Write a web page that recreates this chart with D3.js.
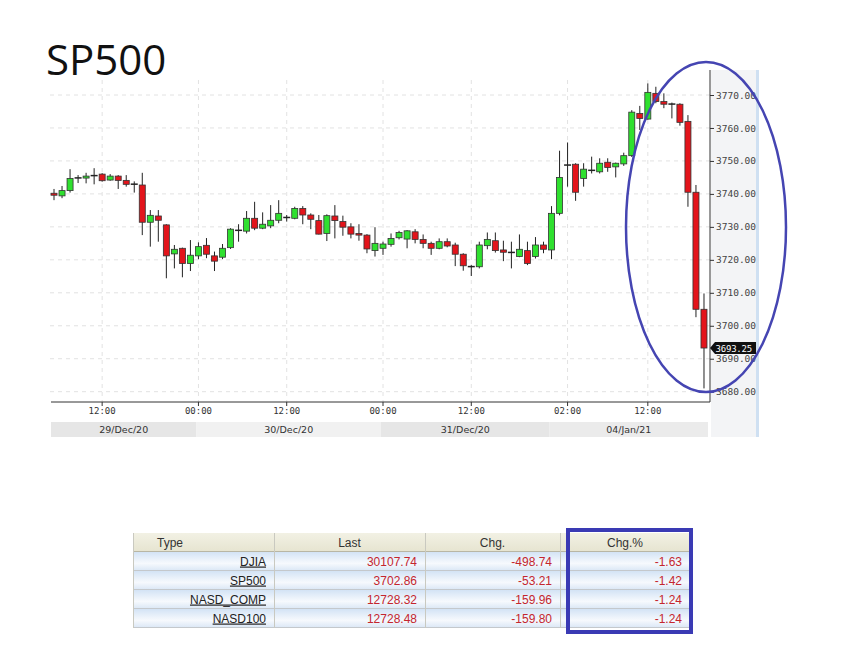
<!DOCTYPE html>
<html><head><meta charset="utf-8">
<script src="https://cdn.jsdelivr.net/npm/d3@7"></script>
<style>
html,body{margin:0;padding:0;background:#fff;}
svg{display:block;}
</style></head>
<body>
<svg id="chart" width="854" height="665"></svg>
<script>
// ---------- DATA ----------
const title = "SP500";
const opens  = [3740.2,3739.4,3741.0,3744.8,3744.8,3745.5,3746.0,3744.2,3745.4,3744.1,3743.0,3742.7,3731.4,3733.3,3730.6,3721.8,3723.5,3718.9,3721.2,3724.4,3721.2,3720.8,3723.7,3728.9,3728.7,3732.6,3729.6,3730.3,3732.0,3732.9,3732.6,3735.6,3733.6,3731.9,3728.0,3733.3,3731.6,3730.0,3728.0,3727.5,3722.8,3723.5,3724.7,3726.7,3726.3,3728.5,3726.2,3725.0,3723.5,3725.5,3724.5,3721.7,3718.0,3717.9,3724.3,3725.8,3723.0,3722.2,3721.0,3722.8,3721.0,3724.5,3723.0,3734.1,3748.7,3749.0,3744.7,3747.1,3746.7,3749.6,3748.2,3749.1,3751.6,3764.4,3762.7,3770.5,3768.0,3767.3,3767.2,3762.0,3740.5,3705.0];
const highs  = [3741.5,3742.4,3747.5,3745.7,3746.4,3747.8,3746.3,3746.0,3745.7,3745.7,3743.8,3746.4,3735.1,3735.1,3730.8,3724.5,3723.7,3726.0,3725.3,3726.6,3722.5,3724.8,3729.6,3730.8,3734.8,3737.6,3734.4,3736.6,3738.1,3733.6,3736.1,3736.3,3734.1,3733.6,3733.8,3736.6,3733.4,3731.1,3730.8,3727.8,3729.9,3725.5,3728.0,3728.8,3729.0,3729.3,3727.7,3725.5,3726.5,3726.5,3725.2,3722.0,3718.4,3725.5,3728.3,3728.3,3725.8,3725.5,3727.7,3725.5,3726.9,3725.5,3736.3,3753.1,3755.6,3749.3,3749.3,3751.3,3750.8,3750.8,3749.5,3752.5,3765.4,3766.7,3773.5,3772.5,3770.5,3767.7,3767.5,3763.9,3742.7,3709.8];
const lows   = [3738.1,3738.7,3740.4,3743.3,3743.2,3742.9,3743.7,3744.0,3741.5,3742.2,3740.4,3727.5,3724.0,3725.5,3714.4,3717.4,3714.7,3716.6,3720.2,3720.5,3716.6,3720.2,3723.3,3725.5,3728.0,3729.0,3729.3,3729.6,3731.1,3731.6,3732.3,3730.8,3729.3,3727.7,3725.7,3726.5,3727.3,3726.5,3725.8,3722.0,3721.0,3721.5,3724.0,3726.2,3723.5,3725.0,3723.5,3721.5,3723.2,3723.8,3718.1,3716.7,3715.1,3717.4,3723.2,3722.2,3719.6,3717.4,3720.8,3718.4,3720.4,3722.0,3720.2,3733.5,3742.2,3737.9,3742.2,3746.2,3746.2,3746.7,3745.0,3748.5,3751.2,3759.4,3762.5,3767.5,3766.0,3762.9,3760.7,3736.1,3702.6,3681.0];
const closes = [3739.6,3741.0,3744.7,3744.9,3745.4,3745.6,3744.0,3745.4,3744.1,3742.9,3742.9,3731.4,3733.5,3732.0,3721.2,3723.2,3718.9,3721.4,3724.0,3721.7,3719.6,3723.5,3729.3,3729.0,3732.6,3729.6,3730.8,3732.0,3734.1,3732.8,3735.6,3733.6,3732.3,3727.8,3733.4,3731.9,3729.9,3727.8,3727.5,3723.3,3725.0,3724.8,3726.5,3728.3,3728.8,3726.2,3725.0,3723.5,3725.5,3724.2,3721.7,3718.2,3717.9,3724.5,3726.2,3722.8,3722.3,3722.3,3723.2,3718.9,3724.5,3723.2,3734.1,3745.0,3748.8,3740.5,3747.5,3747.2,3749.3,3748.0,3749.3,3751.6,3764.8,3762.9,3770.8,3768.0,3767.2,3767.2,3761.7,3740.5,3705.0,3693.25];
const priceTicks = [3680,3690,3700,3710,3720,3730,3740,3750,3760,3770];
const timeTickIdx = [6,18,29,41,52,64,74];
const timeTickLabels = ["12:00","00:00","12:00","00:00","12:00","02:00","12:00"];
const dateStartIdx = [0,18,41,62];
const dateLabels = ["29/Dec/20","30/Dec/20","31/Dec/20","04/Jan/21"];
const lastPrice = 3693.25;

const tableHeaders = ["Type","Last","Chg.","Chg.%"];
const tableTypes = ["DJIA","SP500","NASD_COMP","NASD100"];
const tableLast = ["30107.74","3702.86","12728.32","12728.48"];
const tableChg = ["-498.74","-53.21","-159.96","-159.80"];
const tableChgPct = ["-1.63","-1.42","-1.24","-1.24"];

// ---------- LAYOUT ----------
const svg = d3.select("#chart");
const plotL = 50, plotR = 710, plotT = 70, plotB = 402;
const n = opens.length;
const x = d3.scaleBand().domain(d3.range(n)).range([51, 51 + 8*n]).paddingInner(0.25).paddingOuter(0);
const xc = i => x(i) + x.bandwidth()/2;
const y = d3.scaleLinear().domain([3680, 3770]).range([391.7, 95]);

const defs = svg.append("defs");
const rg = defs.append("linearGradient").attr("id","rowGrad").attr("x1",0).attr("y1",0).attr("x2",0).attr("y2",1);
rg.append("stop").attr("offset","0").attr("stop-color","#d3e3f5");
rg.append("stop").attr("offset","0.45").attr("stop-color","#eef4fb");
rg.append("stop").attr("offset","0.6").attr("stop-color","#f6f9fd");
rg.append("stop").attr("offset","1").attr("stop-color","#d9e6f5");
const hg = defs.append("linearGradient").attr("id","hdrGrad").attr("x1",0).attr("y1",0).attr("x2",0).attr("y2",1);
hg.append("stop").attr("offset","0").attr("stop-color","#f2f1e4");
hg.append("stop").attr("offset","1").attr("stop-color","#e6e4d0");

// Title
svg.append("text").attr("x",46).attr("y",75).text(title)
  .attr("font-family","'Open Sans', 'Noto Sans', sans-serif").attr("font-size",42).attr("fill","#111");

// Right axis panel background
svg.append("rect").attr("x",711).attr("y",plotT).attr("width",45).attr("height",437-plotT).attr("fill","#f3f4f6");
svg.append("rect").attr("x",756).attr("y",plotT).attr("width",3).attr("height",437-plotT).attr("fill","#cfe0f2");

// Grid
const gridG = svg.append("g");
gridG.selectAll("line.h").data(priceTicks).join("line")
  .attr("x1",plotL).attr("x2",plotR).attr("y1",d=>y(d)).attr("y2",d=>y(d))
  .attr("stroke","#e2e2e2").attr("stroke-dasharray","4,4");
gridG.selectAll("line.v").data(timeTickIdx).join("line")
  .attr("x1",d=>xc(d)).attr("x2",d=>xc(d)).attr("y1",80).attr("y2",plotB)
  .attr("stroke","#e2e2e2").attr("stroke-dasharray","4,4");

// Candles
const cg = svg.append("g");
const green = "#2fe02f", red = "#e3141b";
d3.range(n).forEach(i => {
  const o = opens[i], c = closes[i], h = highs[i], l = lows[i];
  cg.append("line").attr("x1",xc(i)).attr("x2",xc(i)).attr("y1",y(h)).attr("y2",y(l))
    .attr("stroke","#222").attr("stroke-width",1);
  const top = y(Math.max(o,c)), bot = y(Math.min(o,c));
  if (bot - top < 1.5) {
    cg.append("line").attr("x1",x(i)-0.5).attr("x2",x(i)+x.bandwidth()+0.5)
      .attr("y1",(top+bot)/2).attr("y2",(top+bot)/2).attr("stroke","#222").attr("stroke-width",1.5);
  } else {
    cg.append("rect").attr("x",x(i)).attr("y",top).attr("width",x.bandwidth()).attr("height",bot-top)
      .attr("fill", c >= o ? green : red).attr("stroke","#333").attr("stroke-width",0.8);
  }
});

// Y axis (right)
const yAxis = d3.axisRight(y).tickValues(priceTicks).tickFormat(d3.format(".2f")).tickSize(4).tickPadding(2);
const yg = svg.append("g").attr("transform",`translate(${plotR},0)`).call(yAxis);
yg.select(".domain").remove();
yg.append("line").attr("x1",0).attr("x2",0).attr("y1",plotT).attr("y2",plotB).attr("stroke","#333");
yg.selectAll(".tick line").attr("stroke","#333");
yg.selectAll(".tick text").attr("font-family","'DejaVu Sans Mono', monospace").attr("font-size",9.5).attr("fill","#444");

// Last price tag
const ly = y(lastPrice);
svg.append("path").attr("d",`M710,${ly} L715,${ly-6} L756,${ly-6} L756,${ly+6} L715,${ly+6} Z`).attr("fill","#111");
svg.append("text").attr("x",715.5).attr("y",ly+3.5).text(lastPrice.toFixed(2))
  .attr("font-family","'DejaVu Sans Mono', monospace").attr("font-size",9).attr("letter-spacing",-0.2).attr("fill","#fff");

// X axis
svg.append("line").attr("x1",51).attr("x2",plotR).attr("y1",plotB).attr("y2",plotB).attr("stroke","#333");
const xg = svg.append("g");
xg.selectAll("line").data(timeTickIdx).join("line")
  .attr("x1",d=>xc(d)).attr("x2",d=>xc(d)).attr("y1",plotB).attr("y2",plotB+4).attr("stroke","#333");
xg.selectAll("text").data(timeTickIdx).join("text")
  .attr("x",d=>xc(d)).attr("y",414).attr("text-anchor","middle")
  .text((d,i)=>timeTickLabels[i])
  .attr("font-family","'DejaVu Sans Mono', monospace").attr("font-size",9).attr("fill","#333");

// Date bar
const segX = dateStartIdx.map((d,i)=> i===0 ? 51 : xc(d)-2);
const segEnd = segX.slice(1).concat([708]);
const segFill = ["#e6e6e6","#f1f1f1","#e6e6e6","#ebebeb"];
const dg = svg.append("g");
dg.selectAll("rect").data(dateLabels).join("rect")
  .attr("x",(d,i)=>segX[i]).attr("y",422).attr("width",(d,i)=>segEnd[i]-segX[i]).attr("height",15)
  .attr("fill",(d,i)=>segFill[i]);
dg.selectAll("text").data(dateLabels).join("text")
  .attr("x",(d,i)=>(segX[i]+segEnd[i])/2).attr("y",433).attr("text-anchor","middle").text(d=>d)
  .attr("font-family","'DejaVu Sans', sans-serif").attr("font-size",9.5).attr("fill","#333");

// Annotation ellipse
svg.append("ellipse").attr("cx",706).attr("cy",227).attr("rx",80).attr("ry",165)
  .attr("fill","none").attr("stroke","#4545b2").attr("stroke-width",2.5);

// ---------- TABLE ----------
const colX = [133, 274, 425, 560, 690];
const hdrY = 533, rowH = 19;
const tg = svg.append("g").attr("font-family","'Liberation Sans', Arial, sans-serif").attr("font-size",12);
tg.append("rect").attr("x",colX[0]).attr("y",hdrY).attr("width",colX[4]-colX[0]).attr("height",rowH).attr("fill","url(#hdrGrad)");
tableTypes.forEach((t,r)=>{
  tg.append("rect").attr("x",colX[0]).attr("y",hdrY+rowH*(r+1)).attr("width",colX[4]-colX[0]).attr("height",rowH).attr("fill","url(#rowGrad)");
  tg.append("line").attr("x1",colX[0]).attr("x2",colX[4]).attr("y1",hdrY+rowH*(r+2)-0.5).attr("y2",hdrY+rowH*(r+2)-0.5).attr("stroke","#c4c8cc");
});
tg.append("line").attr("x1",colX[0]).attr("x2",colX[4]).attr("y1",hdrY+rowH-0.5).attr("y2",hdrY+rowH-0.5).attr("stroke","#b8b6a4");
colX.forEach((cx,i)=>{
  tg.append("line").attr("x1",cx+0.5).attr("x2",cx+0.5).attr("y1",hdrY).attr("y2",hdrY+rowH*5)
    .attr("stroke", "#c9c9c0");
});
tableHeaders.forEach((h,i)=>{
  const t = tg.append("text").attr("y",hdrY+13.5).text(h).attr("fill","#333");
  if (i===0) t.attr("x",colX[0]+24);
  else t.attr("x",(colX[i]+colX[i+1])/2).attr("text-anchor","middle");
});
const cols = [tableTypes, tableLast, tableChg, tableChgPct];
cols.forEach((arr,ci)=>{
  arr.forEach((v,r)=>{
    tg.append("text").attr("x",colX[ci+1]-8).attr("y",hdrY+rowH*(r+1)+13.5).attr("text-anchor","end").text(v)
      .attr("fill", ci===0 ? "#222" : "#c4262e")
      .style("text-decoration", ci===0 ? "underline" : "none");
  });
});
// highlight box around Chg.% column
svg.append("rect").attr("x",568).attr("y",530).attr("width",123).attr("height",102)
  .attr("fill","none").attr("stroke","#3a3ab4").attr("stroke-width",4);
</script>
</body></html>
